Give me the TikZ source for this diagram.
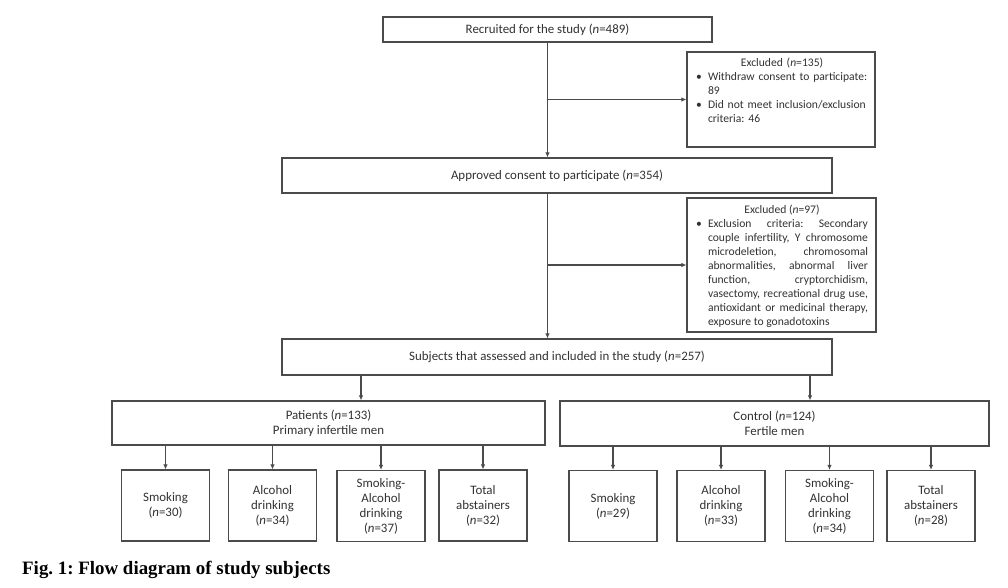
\documentclass[tikz,border=0pt]{standalone}
\usepackage{fontspec}
\setmainfont{Carlito}
\newfontfamily\capfont{Liberation Serif}
\usetikzlibrary{arrows.meta}
\definecolor{linec}{RGB}{75,75,75}
\definecolor{textc}{RGB}{50,50,50}
\frenchspacing
\newcommand{\bitem}{\par\hangindent=12pt\hangafter=1\noindent\makebox[12pt][l]{\textbullet}}
\begin{document}
\begin{tikzpicture}[x=1pt,y=-1pt,
  box/.style={draw=linec,line width=1.2pt,inner sep=0pt,text=textc,
    font=\fontsize{12.9}{15}\selectfont,align=center},
  kid/.style={box,minimum width=88pt,minimum height=71pt},
  exttext/.style={text=textc,font=\fontsize{11.6}{14}\selectfont,inner sep=0pt,anchor=north,
    text width=172pt},
  arr/.style={draw=linec,line width=1.2pt,-{Latex[length=5pt,width=4.5pt]}}]
\useasboundingbox[fill=white] (0,0) rectangle (1008,587);

\node[box,minimum width=329pt,minimum height=25pt] (rec) at (547.5,29.5) {Recruited for the study (\textit{n}=489)};
\node[box,minimum width=188pt,minimum height=95pt] (ex1) at (781,99.5) {};
\node[exttext,align=left] (ex1t) at (782,57.5) {\hyphenpenalty=10000\frenchspacing
{\centering Excluded (\textit{n}=135)\par}%
\bitem Withdraw consent to participate:\newline 89
\bitem Did not meet inclusion/exclusion\newline criteria: 46\par};
\node[box,minimum width=550pt,minimum height=35pt] (app) at (557,175.5) {Approved consent to participate (\textit{n}=354)};
\node[box,minimum width=189pt,minimum height=134pt] (ex2) at (781.5,265) {};
\node[exttext,align=justify] (ex2t) at (782,205) {\hyphenpenalty=10000\exhyphenpenalty=10000
{\centering Excluded (\textit{n}=97)\par}%
\bitem Exclusion criteria: Secondary\linebreak couple infertility, Y chromosome\linebreak microdeletion, chromosomal\linebreak abnormalities, abnormal liver\linebreak function, cryptorchidism,\linebreak vasectomy, recreational drug use,\linebreak antioxidant or medicinal therapy,\linebreak exposure to gonadotoxins\par};
\node[box,minimum width=550pt,minimum height=36pt] (subj) at (557,357) {Subjects that assessed and included in the study (\textit{n}=257)};
\node[box,minimum width=433pt,minimum height=44pt] (pat) at (328.5,423) {Patients (\textit{n}=133)\\Primary infertile men};
\node[box,minimum width=429pt,minimum height=45pt] (con) at (774.5,423.5) {Control (\textit{n}=124)\\Fertile men};

\node[kid] (p1) at (165.5,505.5) {Smoking\\(\textit{n}=30)};
\node[kid] (p2) at (272.5,505.5) {Alcohol\\drinking\\(\textit{n}=34)};
\node[kid] (p3) at (381,506) {Smoking-\\Alcohol\\drinking\\(\textit{n}=37)};
\node[kid] (p4) at (483,505.5) {Total\\abstainers\\(\textit{n}=32)};
\node[kid] (c1) at (613,506) {Smoking\\(\textit{n}=29)};
\node[kid] (c2) at (721,506) {Alcohol\\drinking\\(\textit{n}=33)};
\node[kid] (c3) at (829.5,506) {Smoking-\\Alcohol\\drinking\\(\textit{n}=34)};
\node[kid] (c4) at (931,506) {Total\\abstainers\\(\textit{n}=28)};

\node[anchor=base west,inner sep=0pt,font=\capfont\bfseries\fontsize{18.9}{21}\selectfont] (cap) at (22,574) {\frenchspacing Fig. 1: Flow diagram of study subjects};

\coordinate (pa) at (361,0);
\coordinate (ca) at (810,0);
\coordinate (j1) at (rec.south |- ex1.west);
\coordinate (j2) at (rec.south |- ex2.west);
\draw[arr] (rec.south) -- (rec.south |- app.north);
\draw[arr] (j1) -- (ex1.west);
\draw[arr] (app.south -| rec.south) -- (rec.south |- subj.north);
\draw[arr] (j2) -- (ex2.west);
\draw[arr] (subj.south -| pa) -- (pat.north -| pa);
\draw[arr] (subj.south -| ca) -- (con.north -| ca);
\foreach \k in {p1,p2,p3,p4} \draw[arr] (pat.south -| \k.north) -- (\k.north);
\foreach \k in {c1,c2,c3,c4} \draw[arr] (con.south -| \k.north) -- (\k.north);
\end{tikzpicture}
\end{document}
